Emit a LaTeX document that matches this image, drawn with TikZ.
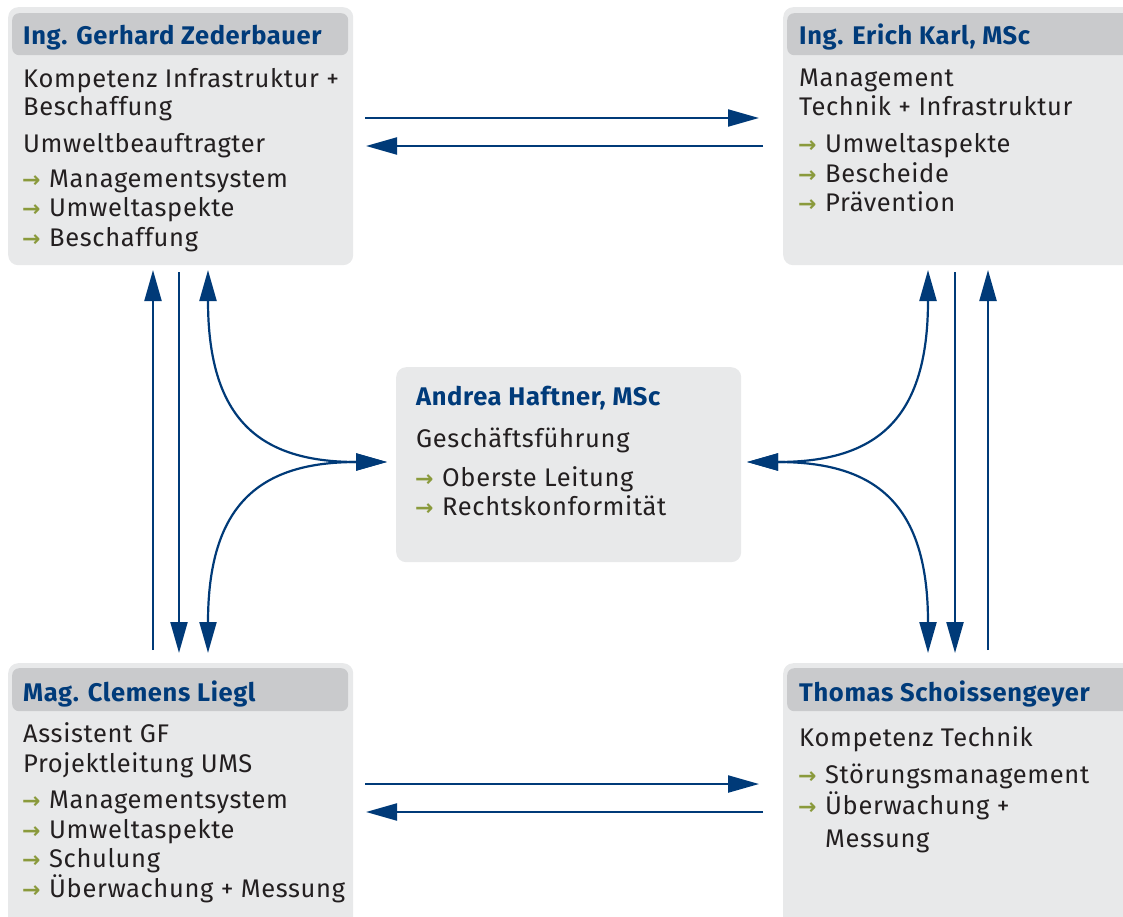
\documentclass[tikz,border=0pt]{standalone}
\usepackage{fontspec}
\setmainfont{Fira Sans}[LetterSpace=2.5]
\newfontfamily\symfont{DejaVu Sans}
\usetikzlibrary{arrows.meta}
\definecolor{boxgray}{HTML}{E8E9EA}
\definecolor{headgray}{HTML}{C9CACC}
\definecolor{titleblue}{HTML}{003B7A}
\definecolor{linkblue}{HTML}{003A78}
\definecolor{txt}{HTML}{231F20}
\definecolor{bulgreen}{HTML}{8A9A3C}
\tikzset{
 box/.style={fill=boxgray, rounded corners=10pt, draw=none, inner sep=0pt, anchor=north west},
 head/.style={fill=headgray, rounded corners=7pt, draw=none, inner sep=0pt, anchor=north west},
 ttl/.style={anchor=base west, inner sep=0pt, text=titleblue, font=\fontsize{25.5}{25}\selectfont\bfseries},
 body/.style={anchor=base west, inner sep=0pt, text=txt, font=\fontsize{25.5}{25}\selectfont},
 bul/.style={anchor=base west, inner sep=0pt, text=bulgreen, font=\fontsize{22}{22}\selectfont\symfont\bfseries},
 link/.style={draw=linkblue, line width=2.2pt, -{Triangle[length=31pt,width=17pt]}},
 dlink/.style={draw=linkblue, line width=2.2pt, {Triangle[length=31pt,width=17pt]}-{Triangle[length=31pt,width=17pt]}},
}
\begin{document}
\begin{tikzpicture}[x=1pt,y=-1pt]
\useasboundingbox (0,0) rectangle (1123,917);
\clip (0,0) rectangle (1123,917);
% boxes
\node[box, minimum width=345pt, minimum height=258pt] (bTL) at (8,7) {};
\node[head, minimum width=336pt, minimum height=42pt] (hTL) at (12,13) {};
\node[box, minimum width=360pt, minimum height=258pt] (bTR) at (783,7) {};
\node[head, minimum width=350pt, minimum height=42pt] (hTR) at (787,13) {};
\node[box, minimum width=345pt, minimum height=195pt] (bC) at (396,367) {};
\node[box, minimum width=345pt, minimum height=270pt] (bBL) at (8,663) {};
\node[head, minimum width=336pt, minimum height=43pt] (hBL) at (12,668) {};
\node[box, minimum width=360pt, minimum height=270pt] (bBR) at (783,663) {};
\node[head, minimum width=350pt, minimum height=43pt] (hBR) at (787,668) {};
% top left text
\node[ttl] (tTL) at (23,45) {Ing. Gerhard Zederbauer};
\node[body] (tl1) at (23,88) {Kompetenz Infrastruktur +};
\node[body] (tl2) at (23,116) {Beschaffung};
\node[body] (tl3) at (23,153) {Umweltbeauftragter};
\node[bul] (al4) at (22,188) {→}; \node[body] (tl4) at (49,188) {Managementsystem};
\node[bul] (al5) at (22,217) {→}; \node[body] (tl5) at (49,217) {Umweltaspekte};
\node[bul] (al6) at (22,247) {→}; \node[body] (tl6) at (49,247) {Beschaffung};
% top right text
\node[ttl] (tTR) at (799,45) {Ing. Erich Karl, MSc};
\node[body] (tr1) at (799,87) {Management};
\node[body] (tr2) at (799,116) {Technik + Infrastruktur};
\node[bul] (ar3) at (798,153) {→}; \node[body] (tr3) at (825,153) {Umweltaspekte};
\node[bul] (ar4) at (798,183) {→}; \node[body] (tr4) at (825,183) {Bescheide};
\node[bul] (ar5) at (798,212) {→}; \node[body] (tr5) at (825,212) {Prävention};
% center text
\node[ttl] (tC) at (416,405) {Andrea Haftner, MSc};
\node[body] (c1) at (416,447) {Geschäftsführung};
\node[bul] (ac2) at (415,486) {→}; \node[body] (c2) at (442,486) {Oberste Leitung};
\node[bul] (ac3) at (415,515) {→}; \node[body] (c3) at (442,515) {Rechtskonformität};
% bottom left text
\node[ttl] (tBL) at (23,701) {Mag. Clemens Liegl};
\node[body] (bl1) at (23,742) {Assistent GF};
\node[body] (bl2) at (23,772) {Projektleitung UMS};
\node[bul] (abl3) at (22,808) {→}; \node[body] (bl3) at (49,808) {Managementsystem};
\node[bul] (abl4) at (22,838) {→}; \node[body] (bl4) at (49,838) {Umweltaspekte};
\node[bul] (abl5) at (22,867) {→}; \node[body] (bl5) at (49,867) {Schulung};
\node[bul] (abl6) at (22,897) {→}; \node[body] (bl6) at (49,897) {Überwachung + Messung};
% bottom right text
\node[ttl] (tBR) at (799,701) {Thomas Schoissengeyer};
\node[body] (br1) at (799,746) {Kompetenz Technik};
\node[bul] (abr2) at (798,783) {→}; \node[body] (br2) at (825,783) {Störungsmanagement};
\node[bul] (abr3) at (798,814) {→}; \node[body] (br3) at (825,814) {Überwachung +};
\node[body] (br4) at (825,847) {Messung};
% connector end points
\coordinate (t1a) at (365,118); \coordinate (t1b) at (759,118);
\coordinate (t2a) at (763,146); \coordinate (t2b) at (366,146);
\coordinate (b1a) at (365,784); \coordinate (b1b) at (759,784);
\coordinate (b2a) at (763,812); \coordinate (b2b) at (366,812);
\coordinate (l1a) at (153,650); \coordinate (l1b) at (153,270);
\coordinate (l2a) at (179,272); \coordinate (l2b) at (179,653);
\coordinate (r1a) at (955,272); \coordinate (r1b) at (955,653);
\coordinate (r2a) at (988,650); \coordinate (r2b) at (988,270);
\coordinate (lcU) at (208,270); \coordinate (lcD) at (208,653); \coordinate (lcM) at (387,462);
\coordinate (rcU) at (928,270); \coordinate (rcD) at (928,653); \coordinate (rcM) at (747,462);
% connectors
\draw[link] (t1a) -- (t1b);
\draw[link] (t2a) -- (t2b);
\draw[link] (b1a) -- (b1b);
\draw[link] (b2a) -- (b2b);
\draw[link] (l1a) -- (l1b);
\draw[link] (l2a) -- (l2b);
\draw[link] (r1a) -- (r1b);
\draw[link] (r2a) -- (r2b);
\draw[dlink] (lcU) .. controls (208,420) and (260,462) .. (lcM);
\draw[dlink] (lcM) .. controls (260,462) and (208,504) .. (lcD);
\draw[dlink] (rcU) .. controls (928,420) and (876,462) .. (rcM);
\draw[dlink] (rcM) .. controls (876,462) and (928,504) .. (rcD);
\end{tikzpicture}
\end{document}
